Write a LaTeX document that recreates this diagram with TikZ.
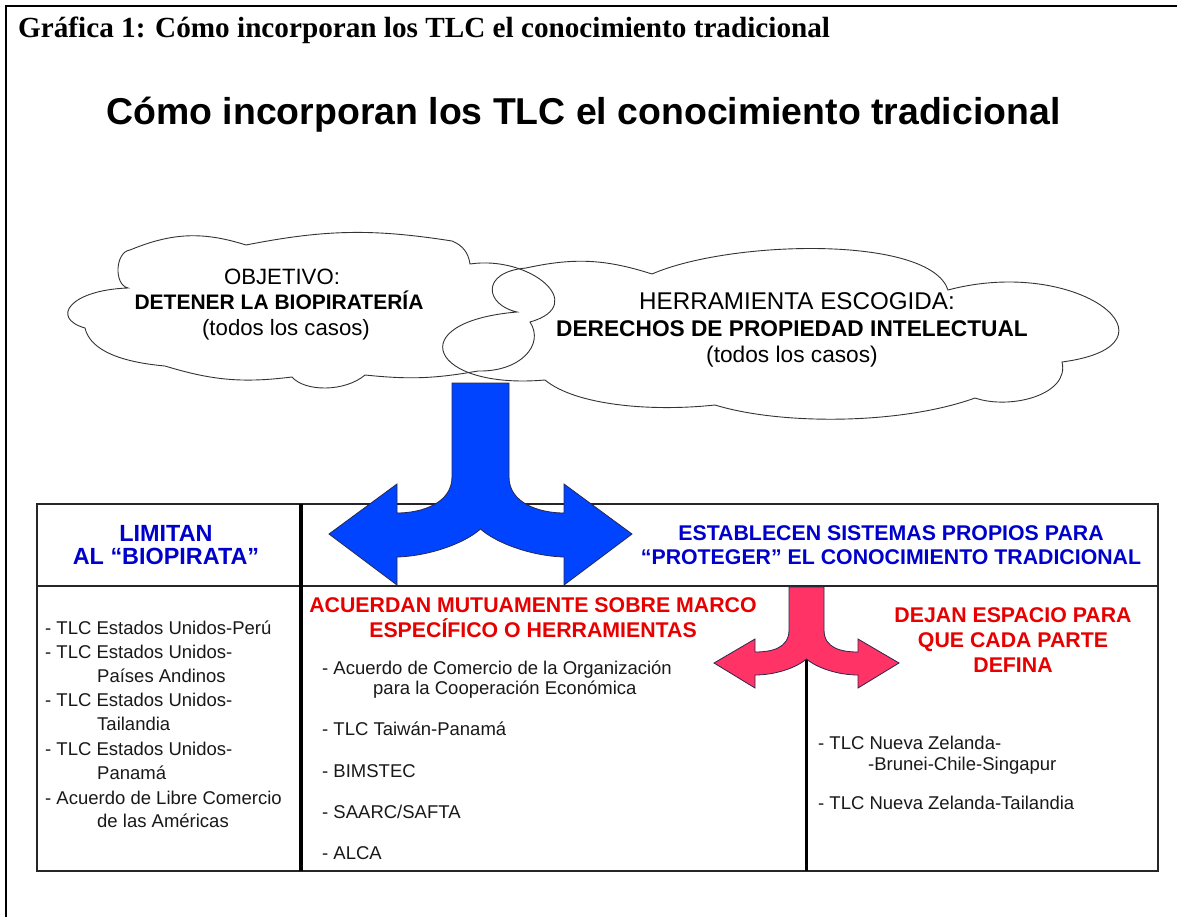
\documentclass[tikz,border=0pt]{standalone}
\usepackage{fontspec}
\setmainfont{Liberation Sans}
\newfontfamily\serifbold{Liberation Serif}
\definecolor{arrowblue}{RGB}{0,68,255}
\definecolor{arrowpink}{RGB}{255,51,102}
\definecolor{arrowedge}{RGB}{40,40,80}
\definecolor{headblue}{RGB}{0,0,204}
\definecolor{headred}{RGB}{230,0,0}
\definecolor{textgray}{RGB}{25,25,25}
\begin{document}
\begin{tikzpicture}[x=1pt,y=-1pt,
  listtext/.style={anchor=base west, inner sep=0pt, font=\fontsize{18.5}{22}\selectfont, text=textgray},
  bluehead/.style={align=center, inner sep=0pt, text=headblue, font=\fontsize{21.3}{23.5}\selectfont\bfseries},
  redhead/.style={align=center, inner sep=0pt, text=headred, font=\fontsize{21.3}{25}\selectfont\bfseries},
  cloudline/.style={draw=black!80, line width=0.9pt},
  cloudtext/.style={anchor=base, inner sep=0pt},
  thickrule/.style={line width=3.5pt},
  tablerule/.style={draw=black!85, line width=1.2pt},
  bigarrow/.style={draw=arrowedge, line width=0.8pt, line join=miter}]
\useasboundingbox (0,0) rectangle (1177,917);
\fill[white] (0,0) rectangle (1177,917);
% outer frame
\draw[line width=2.5pt] (6,917) -- (6,6) -- (1177,6);
\node[anchor=base west, inner sep=0pt] (caption) at (18,38)
  {\serifbold\fontsize{29.2}{32}\selectfont\bfseries Gráfica 1: Cómo incorporan los TLC el conocimiento tradicional};
\node[inner sep=0pt] (title) at (583.5,115)
  {\fontsize{37.4}{40}\selectfont\bfseries Cómo incorporan los TLC el conocimiento tradicional};
% clouds
\draw[cloudline] (128,288) to[bend left=80] (130,250) to[bend left=20] (246,245)
  to[bend left=10] (452,241) to[bend left=30] (470,264)
  .. controls (530,255) and (590,305) .. (530,322)
  .. controls (545,345) and (520,372) .. (478,371)
  to[bend left=8] (365,375)
  .. controls (345,392) and (305,392) .. (292,377)
  to[bend left=12] (165,366)
  .. controls (120,362) and (90,350) .. (85,328)
  .. controls (50,318) and (70,290) .. (128,288) -- cycle;
\draw[cloudline] (545,380) .. controls (430,390) and (400,322) .. (517,312)
  .. controls (485,305) and (480,272) .. (526,268)
  to[bend left=15] (652,274)
  .. controls (730,240) and (930,235) .. (948,290)
  .. controls (1080,255) and (1190,345) .. (1062,362)
  .. controls (1070,395) and (1010,410) .. (975,398)
  .. controls (900,425) and (780,425) .. (715,405)
  .. controls (650,412) and (575,405) .. (545,380) -- cycle;
\node[cloudtext, font=\fontsize{22.2}{26}\selectfont] (goal1) at (282,284) {OBJETIVO:};
\node[cloudtext, font=\fontsize{21}{26}\selectfont\bfseries] (goal2) at (279,309) {DETENER LA BIOPIRATERÍA};
\node[cloudtext, font=\fontsize{22.2}{26}\selectfont] (goal3) at (286,335) {(todos los casos)};
\node[cloudtext, font=\fontsize{24.2}{26}\selectfont] (tool1) at (797,309) {HERRAMIENTA ESCOGIDA:};
\node[cloudtext, font=\fontsize{22.7}{26}\selectfont\bfseries] (tool2) at (792,336) {DERECHOS DE PROPIEDAD INTELECTUAL};
\node[cloudtext, font=\fontsize{22.7}{26}\selectfont] (tool3) at (792,362) {(todos los casos)};
% table
\draw[tablerule] (37,504) rectangle (1158,871);
\draw[tablerule] (37,586) -- (1158,586);
\coordinate (colA top) at (301,504);
\coordinate (colA bot) at (301,871);
\coordinate (colB top) at (806.5,659);
\coordinate (colB bot) at (806.5,871);
\draw[thickrule] (colA top) -- (colA bot);
\draw[thickrule] (colB top) -- (colB bot);
% blue arrow
\filldraw[bigarrow, fill=arrowblue] (452,383) -- (452,477) .. controls (452,503) and (422,513) .. (397,513)
  -- (397,484) -- (329,534) -- (397,585) -- (397,557)
  .. controls (430,556) and (465,543) .. (480.5,529)
  .. controls (496,543) and (531,556) .. (564,557)
  -- (564,585) -- (632,534) -- (564,484) -- (564,513)
  .. controls (539,513) and (509,503) .. (509,477) -- (509,383) -- cycle;
% pink arrow
\filldraw[bigarrow, fill=arrowpink] (789,587) -- (789,630) .. controls (789,648) and (772,652) .. (755,652)
  -- (755,639) -- (714,663) -- (755,688) -- (755,675)
  .. controls (775,675) and (796,668) .. (806.5,659)
  .. controls (817,668) and (838,675) .. (858,675)
  -- (858,688) -- (899,663) -- (858,639) -- (858,652)
  .. controls (841,652) and (824,648) .. (824,630) -- (824,587) -- cycle;
% headings
\node[bluehead, font=\fontsize{23.4}{23.5}\selectfont\bfseries] (limit) at (166,545) {LIMITAN\\AL “BIOPIRATA”};
\node[bluehead] (establish) at (891,545) {ESTABLECEN SISTEMAS PROPIOS PARA\\“PROTEGER” EL CONOCIMIENTO TRADICIONAL};
\node[redhead] (agree) at (533,618) {ACUERDAN MUTUAMENTE SOBRE MARCO\\ESPECÍFICO O HERRAMIENTAS};
\node[redhead] (leave) at (1013,640) {DEJAN ESPACIO PARA\\QUE CADA PARTE\\DEFINA};
% left list
\node[listtext] (l1) at (45,634) {- TLC Estados Unidos-Perú};
\node[listtext] (l2) at (45,658) {- TLC Estados Unidos-};
\node[listtext] (l3) at (97,682) {Países Andinos};
\node[listtext] (l4) at (45,706) {- TLC Estados Unidos-};
\node[listtext] (l5) at (97,730) {Tailandia};
\node[listtext] (l6) at (45,755) {- TLC Estados Unidos-};
\node[listtext] (l7) at (97,779) {Panamá};
\node[listtext] (l8) at (45,804) {- Acuerdo de Libre Comercio};
\node[listtext] (l9) at (97,827) {de las Américas};
% middle list
\node[listtext] (m1) at (322,674) {- Acuerdo de Comercio de la Organización};
\node[listtext] (m2) at (373,694) {para la Cooperación Económica};
\node[listtext] (m3) at (322,735) {- TLC Taiwán-Panamá};
\node[listtext] (m4) at (322,777) {- BIMSTEC};
\node[listtext] (m5) at (322,818) {- SAARC/SAFTA};
\node[listtext] (m6) at (322,859) {- ALCA};
% right list
\node[listtext] (r1) at (818,749) {- TLC Nueva Zelanda-};
\node[listtext] (r2) at (868,770) {-Brunei-Chile-Singapur};
\node[listtext] (r3) at (818,809) {- TLC Nueva Zelanda-Tailandia};
\end{tikzpicture}
\end{document}
